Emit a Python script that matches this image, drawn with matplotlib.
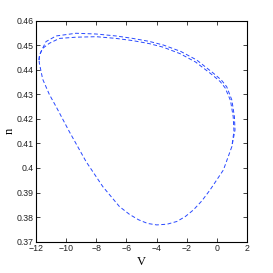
import matplotlib

matplotlib.use("Agg")
import matplotlib.pyplot as plt

# outer loop of the orbit (V, n)
v_outer = [-11.80, -11.78, -11.67, -11.34, -10.67, -9.35, -8.02, -6.69, -5.58, -4.50,
           -3.55, -2.40, -1.34, -0.23, 0.30, 0.65, 0.99, 1.16, 1.20, 0.99,
           0.43, -0.45, -1.00, -1.56, -2.10, -2.66, -3.30, -3.99, -4.60, -5.20, -5.80,
           -6.47, -7.57, -8.68, -9.79, -10.67, -11.12, -11.56, -11.78, -11.80]
n_outer = [0.4440, 0.4455, 0.4474, 0.4515, 0.4538, 0.4549, 0.4546, 0.4538, 0.4528, 0.4516,
           0.4501, 0.4475, 0.4440, 0.4386, 0.4358, 0.4331, 0.4277, 0.4209, 0.4155, 0.4087,
           0.3992, 0.3911, 0.3866, 0.3829, 0.3802, 0.3782, 0.3771, 0.3768, 0.3774, 0.3789, 0.3811,
           0.3843, 0.3924, 0.4026, 0.4148, 0.4250, 0.4300, 0.4362, 0.4427, 0.4440]

# second (inner) pass, only the upper/right part differs
v_inner = [-11.80, -11.76, -11.55, -11.12, -10.45, -9.35, -8.00, -6.69, -5.58, -4.50,
           -3.55, -2.45, -1.42, -0.32, 0.22, 0.55, 0.90, 1.08, 1.13, 0.99]
n_inner = [0.4440, 0.4462, 0.4488, 0.4508, 0.4528, 0.4533, 0.4535, 0.4528, 0.4519, 0.4507,
           0.4492, 0.4466, 0.4432, 0.4380, 0.4352, 0.4326, 0.4275, 0.4209, 0.4150, 0.4087]

xticks = [-12, -10, -8, -6, -4, -2, 0, 2]
yticks = [0.37, 0.38, 0.39, 0.40, 0.41, 0.42, 0.43, 0.44, 0.45, 0.46]
ytick_labels = ["0.37", "0.38", "0.39", "0.4", "0.41", "0.42", "0.43", "0.44", "0.45", "0.46"]

plt.rcParams["font.family"] = ["Liberation Sans Narrow", "Liberation Sans", "DejaVu Sans"]

fig = plt.figure(figsize=(2.73, 2.73), dpi=100)
ax = fig.add_axes([0.132, 0.115, 0.773, 0.809])

for vs, ns in ((v_outer, n_outer), (v_inner, n_inner)):
    ax.plot(vs, ns, color="#2848ff", lw=0.7, dashes=(4, 2.5), solid_joinstyle="round",
            dash_joinstyle="round")

ax.set_xlim(-12, 2)
ax.set_ylim(0.37, 0.46)
ax.set_xticks(xticks)
ax.set_xticklabels([str(t).replace("-", "\u2212") for t in xticks])
ax.set_yticks(yticks)
ax.set_yticklabels(ytick_labels)
ax.tick_params(direction="in", length=3, width=0.6, labelsize=6.3, top=True, right=True,
               colors="#222222", pad=2)
for s in ax.spines.values():
    s.set_linewidth(0.8)

ax.set_xlabel("V", family="Liberation Serif", fontsize=9, labelpad=2)
ax.set_ylabel("n", family="Liberation Serif", fontsize=9, labelpad=0.5)

fig.savefig("out.png", dpi=100, facecolor="white")
